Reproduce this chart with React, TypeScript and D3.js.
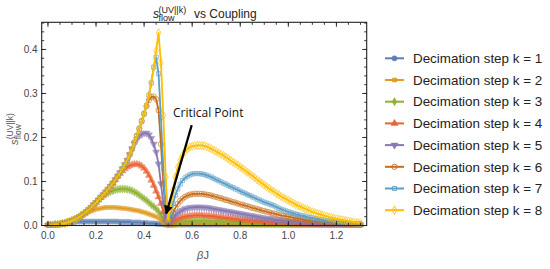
import React from 'react';
import * as d3 from 'd3';

// beta J grid, read at 0.01 steps
const betaJ = [
  0.00, 0.01, 0.02, 0.03, 0.04, 0.05, 0.06, 0.07, 0.08, 0.09,
  0.10, 0.11, 0.12, 0.13, 0.14, 0.15, 0.16, 0.17, 0.18, 0.19,
  0.20, 0.21, 0.22, 0.23, 0.24, 0.25, 0.26, 0.27, 0.28, 0.29,
  0.30, 0.31, 0.32, 0.33, 0.34, 0.35, 0.36, 0.37, 0.38, 0.39,
  0.40, 0.41, 0.42, 0.43, 0.44, 0.45, 0.46, 0.47, 0.48, 0.49,
  0.50, 0.51, 0.52, 0.53, 0.54, 0.55, 0.56, 0.57, 0.58, 0.59,
  0.60, 0.61, 0.62, 0.63, 0.64, 0.65, 0.66, 0.67, 0.68, 0.69,
  0.70, 0.71, 0.72, 0.73, 0.74, 0.75, 0.76, 0.77, 0.78, 0.79,
  0.80, 0.81, 0.82, 0.83, 0.84, 0.85, 0.86, 0.87, 0.88, 0.89,
  0.90, 0.91, 0.92, 0.93, 0.94, 0.95, 0.96, 0.97, 0.98, 0.99,
  1.00, 1.01, 1.02, 1.03, 1.04, 1.05, 1.06, 1.07, 1.08, 1.09,
  1.10, 1.11, 1.12, 1.13, 1.14, 1.15, 1.16, 1.17, 1.18, 1.19,
  1.20, 1.21, 1.22, 1.23, 1.24, 1.25, 1.26, 1.27, 1.28, 1.29,
  1.30,
];

const k1 = [
  0.001, 0.001, 0.001, 0.002, 0.002, 0.003, 0.004, 0.005, 0.006, 0.007,
  0.008, 0.008, 0.009, 0.009, 0.009, 0.009, 0.009, 0.009, 0.009, 0.009,
  0.009, 0.009, 0.009, 0.009, 0.009, 0.009, 0.009, 0.009, 0.009, 0.009,
  0.008, 0.008, 0.008, 0.008, 0.008, 0.007, 0.007, 0.007, 0.007, 0.006,
  0.006, 0.006, 0.005, 0.005, 0.005, 0.004, 0.004, 0.003, 0.002, 0.001,
  0.000, 0.000, 0.000, 0.000, 0.001, 0.001, 0.001, 0.001, 0.001, 0.001,
  0.001, 0.001, 0.001, 0.001, 0.001, 0.001, 0.001, 0.001, 0.001, 0.001,
  0.001, 0.001, 0.001, 0.001, 0.001, 0.001, 0.001, 0.001, 0.001, 0.001,
  0.001, 0.001, 0.001, 0.001, 0.001, 0.000, 0.000, 0.000, 0.000, 0.000,
  0.000, 0.000, 0.000, 0.000, 0.000, 0.000, 0.000, 0.000, 0.000, 0.000,
  0.000, 0.000, 0.000, 0.000, 0.000, 0.000, 0.000, 0.000, 0.000, 0.000,
  0.000, 0.000, 0.000, 0.000, 0.000, 0.000, 0.000, 0.000, 0.000, 0.000,
  0.000, 0.000, 0.000, 0.000, 0.000, 0.000, 0.000, 0.000, 0.000, 0.000,
  0.000,
];

const k2 = [
  0.001, 0.001, 0.001, 0.002, 0.002, 0.003, 0.004, 0.005, 0.007, 0.009,
  0.011, 0.013, 0.016, 0.019, 0.022, 0.025, 0.028, 0.031, 0.033, 0.035,
  0.037, 0.038, 0.039, 0.040, 0.041, 0.041, 0.041, 0.041, 0.041, 0.040,
  0.040, 0.039, 0.039, 0.038, 0.037, 0.036, 0.035, 0.034, 0.033, 0.031,
  0.030, 0.028, 0.026, 0.024, 0.022, 0.020, 0.017, 0.012, 0.006, 0.002,
  0.001, 0.001, 0.001, 0.002, 0.003, 0.003, 0.004, 0.004, 0.004, 0.004,
  0.004, 0.004, 0.004, 0.004, 0.004, 0.004, 0.004, 0.004, 0.004, 0.004,
  0.004, 0.004, 0.004, 0.003, 0.003, 0.003, 0.003, 0.003, 0.003, 0.003,
  0.003, 0.003, 0.003, 0.003, 0.003, 0.003, 0.002, 0.002, 0.002, 0.002,
  0.002, 0.002, 0.002, 0.002, 0.002, 0.002, 0.002, 0.002, 0.002, 0.002,
  0.002, 0.001, 0.001, 0.001, 0.001, 0.001, 0.001, 0.001, 0.001, 0.001,
  0.001, 0.001, 0.001, 0.001, 0.001, 0.001, 0.001, 0.001, 0.001, 0.001,
  0.001, 0.001, 0.001, 0.001, 0.001, 0.001, 0.001, 0.001, 0.001, 0.001,
  0.001,
];

const k3 = [
  0.001, 0.001, 0.001, 0.002, 0.002, 0.003, 0.004, 0.005, 0.007, 0.009,
  0.011, 0.013, 0.016, 0.019, 0.023, 0.027, 0.031, 0.036, 0.041, 0.047,
  0.052, 0.058, 0.063, 0.067, 0.071, 0.074, 0.077, 0.079, 0.081, 0.082,
  0.083, 0.083, 0.083, 0.082, 0.081, 0.079, 0.076, 0.073, 0.069, 0.065,
  0.061, 0.057, 0.052, 0.047, 0.043, 0.038, 0.032, 0.024, 0.014, 0.006,
  0.002, 0.002, 0.004, 0.006, 0.007, 0.008, 0.009, 0.010, 0.010, 0.011,
  0.011, 0.011, 0.011, 0.011, 0.011, 0.011, 0.011, 0.011, 0.010, 0.010,
  0.010, 0.010, 0.010, 0.009, 0.009, 0.009, 0.008, 0.008, 0.008, 0.007,
  0.007, 0.007, 0.006, 0.006, 0.006, 0.005, 0.005, 0.005, 0.005, 0.004,
  0.004, 0.004, 0.004, 0.004, 0.003, 0.003, 0.003, 0.003, 0.003, 0.003,
  0.002, 0.002, 0.002, 0.002, 0.002, 0.002, 0.002, 0.002, 0.002, 0.002,
  0.002, 0.002, 0.002, 0.001, 0.001, 0.001, 0.001, 0.001, 0.001, 0.001,
  0.001, 0.001, 0.001, 0.001, 0.001, 0.001, 0.001, 0.001, 0.001, 0.001,
  0.001,
];

const k4 = [
  0.001, 0.001, 0.001, 0.002, 0.002, 0.003, 0.004, 0.005, 0.007, 0.009,
  0.011, 0.013, 0.016, 0.019, 0.023, 0.027, 0.031, 0.036, 0.041, 0.047,
  0.052, 0.058, 0.064, 0.070, 0.076, 0.082, 0.089, 0.096, 0.104, 0.112,
  0.118, 0.124, 0.129, 0.133, 0.136, 0.138, 0.139, 0.139, 0.138, 0.135,
  0.130, 0.123, 0.114, 0.103, 0.091, 0.078, 0.065, 0.050, 0.031, 0.013,
  0.003, 0.004, 0.008, 0.012, 0.015, 0.017, 0.019, 0.020, 0.021, 0.022,
  0.022, 0.023, 0.023, 0.023, 0.023, 0.022, 0.022, 0.022, 0.021, 0.021,
  0.020, 0.019, 0.019, 0.018, 0.017, 0.017, 0.016, 0.015, 0.015, 0.014,
  0.013, 0.013, 0.012, 0.012, 0.011, 0.011, 0.010, 0.010, 0.009, 0.009,
  0.008, 0.008, 0.007, 0.007, 0.007, 0.006, 0.006, 0.006, 0.005, 0.005,
  0.005, 0.004, 0.004, 0.004, 0.004, 0.003, 0.003, 0.003, 0.003, 0.003,
  0.002, 0.002, 0.002, 0.002, 0.002, 0.002, 0.002, 0.002, 0.002, 0.002,
  0.002, 0.002, 0.002, 0.001, 0.001, 0.001, 0.001, 0.001, 0.001, 0.001,
  0.001,
];

const k5 = [
  0.001, 0.001, 0.001, 0.002, 0.002, 0.003, 0.004, 0.005, 0.007, 0.009,
  0.011, 0.013, 0.016, 0.019, 0.023, 0.027, 0.031, 0.036, 0.041, 0.047,
  0.052, 0.058, 0.064, 0.070, 0.076, 0.082, 0.089, 0.096, 0.104, 0.112,
  0.120, 0.129, 0.138, 0.148, 0.161, 0.174, 0.186, 0.196, 0.203, 0.207,
  0.210, 0.210, 0.206, 0.198, 0.185, 0.167, 0.140, 0.095, 0.050, 0.016,
  0.003, 0.008, 0.016, 0.023, 0.028, 0.032, 0.035, 0.038, 0.039, 0.041,
  0.041, 0.042, 0.042, 0.042, 0.042, 0.041, 0.041, 0.040, 0.039, 0.038,
  0.037, 0.036, 0.035, 0.034, 0.033, 0.032, 0.031, 0.030, 0.029, 0.028,
  0.027, 0.026, 0.025, 0.024, 0.023, 0.022, 0.021, 0.020, 0.019, 0.018,
  0.017, 0.016, 0.016, 0.015, 0.014, 0.013, 0.013, 0.012, 0.011, 0.011,
  0.010, 0.010, 0.009, 0.009, 0.008, 0.008, 0.007, 0.007, 0.006, 0.006,
  0.006, 0.005, 0.005, 0.005, 0.004, 0.004, 0.004, 0.004, 0.003, 0.003,
  0.003, 0.003, 0.002, 0.002, 0.002, 0.002, 0.002, 0.002, 0.001, 0.001,
  0.001,
];

const k6 = [
  0.001, 0.001, 0.001, 0.002, 0.002, 0.003, 0.004, 0.005, 0.007, 0.009,
  0.011, 0.013, 0.016, 0.019, 0.023, 0.027, 0.031, 0.036, 0.041, 0.047,
  0.052, 0.058, 0.064, 0.070, 0.076, 0.082, 0.089, 0.096, 0.104, 0.112,
  0.120, 0.129, 0.138, 0.148, 0.161, 0.174, 0.189, 0.204, 0.220, 0.237,
  0.254, 0.271, 0.285, 0.292, 0.293, 0.287, 0.262, 0.185, 0.095, 0.028,
  0.004, 0.014, 0.028, 0.040, 0.049, 0.056, 0.061, 0.065, 0.068, 0.070,
  0.071, 0.072, 0.072, 0.072, 0.072, 0.071, 0.070, 0.069, 0.068, 0.066,
  0.065, 0.063, 0.062, 0.060, 0.058, 0.057, 0.055, 0.053, 0.052, 0.050,
  0.048, 0.047, 0.045, 0.044, 0.042, 0.040, 0.039, 0.037, 0.036, 0.034,
  0.033, 0.031, 0.030, 0.028, 0.027, 0.026, 0.024, 0.023, 0.022, 0.021,
  0.020, 0.019, 0.018, 0.017, 0.016, 0.015, 0.014, 0.013, 0.012, 0.012,
  0.011, 0.010, 0.010, 0.009, 0.008, 0.008, 0.007, 0.007, 0.006, 0.006,
  0.005, 0.005, 0.005, 0.004, 0.004, 0.004, 0.003, 0.003, 0.003, 0.002,
  0.002,
];

const k7 = [
  0.001, 0.001, 0.001, 0.002, 0.002, 0.003, 0.004, 0.005, 0.007, 0.009,
  0.011, 0.013, 0.016, 0.019, 0.023, 0.027, 0.031, 0.036, 0.041, 0.047,
  0.052, 0.058, 0.064, 0.070, 0.076, 0.082, 0.089, 0.096, 0.104, 0.112,
  0.120, 0.129, 0.138, 0.148, 0.161, 0.174, 0.189, 0.204, 0.220, 0.237,
  0.254, 0.273, 0.296, 0.324, 0.360, 0.382, 0.345, 0.245, 0.130, 0.040,
  0.005, 0.025, 0.050, 0.069, 0.083, 0.094, 0.102, 0.108, 0.112, 0.115,
  0.117, 0.118, 0.118, 0.118, 0.117, 0.116, 0.114, 0.112, 0.110, 0.107,
  0.104, 0.102, 0.099, 0.096, 0.094, 0.091, 0.088, 0.086, 0.083, 0.081,
  0.078, 0.075, 0.073, 0.070, 0.068, 0.065, 0.063, 0.060, 0.058, 0.055,
  0.053, 0.051, 0.049, 0.047, 0.045, 0.042, 0.039, 0.037, 0.035, 0.033,
  0.031, 0.029, 0.028, 0.026, 0.025, 0.023, 0.022, 0.021, 0.019, 0.018,
  0.017, 0.016, 0.015, 0.014, 0.013, 0.012, 0.011, 0.010, 0.010, 0.009,
  0.008, 0.008, 0.007, 0.006, 0.006, 0.005, 0.005, 0.004, 0.004, 0.004,
  0.003,
];

const k8 = [
  0.001, 0.001, 0.001, 0.002, 0.002, 0.003, 0.004, 0.005, 0.007, 0.009,
  0.011, 0.013, 0.016, 0.019, 0.023, 0.027, 0.031, 0.036, 0.041, 0.047,
  0.052, 0.058, 0.064, 0.070, 0.076, 0.082, 0.089, 0.096, 0.104, 0.112,
  0.120, 0.129, 0.138, 0.148, 0.161, 0.174, 0.189, 0.204, 0.220, 0.237,
  0.254, 0.273, 0.296, 0.324, 0.358, 0.397, 0.438, 0.370, 0.250, 0.110,
  0.012, 0.040, 0.080, 0.110, 0.132, 0.148, 0.160, 0.168, 0.174, 0.178,
  0.180, 0.181, 0.182, 0.182, 0.182, 0.181, 0.179, 0.177, 0.174, 0.171,
  0.168, 0.165, 0.162, 0.159, 0.155, 0.152, 0.148, 0.144, 0.141, 0.137,
  0.133, 0.129, 0.125, 0.121, 0.117, 0.113, 0.109, 0.104, 0.100, 0.096,
  0.092, 0.088, 0.084, 0.080, 0.077, 0.073, 0.070, 0.066, 0.063, 0.060,
  0.057, 0.054, 0.051, 0.048, 0.045, 0.043, 0.040, 0.038, 0.036, 0.033,
  0.031, 0.029, 0.027, 0.026, 0.024, 0.022, 0.021, 0.019, 0.018, 0.016,
  0.015, 0.014, 0.013, 0.012, 0.011, 0.010, 0.009, 0.008, 0.007, 0.007,
  0.006,
];

const seriesNames = [
  'Decimation step k = 1',
  'Decimation step k = 2',
  'Decimation step k = 3',
  'Decimation step k = 4',
  'Decimation step k = 5',
  'Decimation step k = 6',
  'Decimation step k = 7',
  'Decimation step k = 8',
];

const xTicks = [0, 0.2, 0.4, 0.6, 0.8, 1.0, 1.2];
const xTickLabels = ['0.0', '0.2', '0.4', '0.6', '0.8', '1.0', '1.2'];
const yTicks = [0, 0.1, 0.2, 0.3, 0.4];
const yTickLabels = ['0.0', '0.1', '0.2', '0.3', '0.4'];

// annotation arrow: tail, tip in data units
const arrowFrom = [0.598, 0.228];
const arrowTo = [0.492, 0.027];

const colors = ['#5e81b5', '#e19c24', '#8fb032', '#eb6235', '#8778b3', '#c56e1a', '#5d9ec7', '#ffbf00'];
const markers = [
  { type: d3.symbolCircle, size: 22, filled: true, rot: 0 },
  { type: d3.symbolSquare, size: 17, filled: true, rot: 0 },
  { type: d3.symbolDiamond, size: 20, filled: true, rot: 0 },
  { type: d3.symbolTriangle, size: 22, filled: true, rot: 0 },
  { type: d3.symbolTriangle, size: 22, filled: true, rot: 180 },
  { type: d3.symbolCircle, size: 22, filled: false, rot: 0 },
  { type: d3.symbolSquare, size: 17, filled: false, rot: 0 },
  { type: d3.symbolDiamond, size: 20, filled: false, rot: 0 },
];

const FONT = '"Liberation Sans", Arial, sans-serif';
const M = { l: 41.7, r: 366.7, t: 22.3, b: 225.5 };

export default function App() {
  const x = d3.scaleLinear().domain([-0.026, 1.326]).range([M.l, M.r]);
  const y = d3.scaleLinear().domain([0, 0.4617]).range([M.b, M.t]);
  const series = [k1, k2, k3, k4, k5, k6, k7, k8];
  const line = d3.line<number>().x((_, i) => x(betaJ[i])).y(d => y(d));

  const xMinor = d3.range(0, 1.3001, 0.05);
  const yMinor = d3.range(0, 0.4601, 0.02);

  const marker = (i: number, cx: number, cy: number, key: string | number) => {
    const m = markers[i];
    const d = d3.symbol(m.type, m.size)() as string;
    return (
      <path
        key={key}
        d={d}
        transform={`translate(${cx},${cy}) rotate(${m.rot})`}
        fill={m.filled ? colors[i] : 'none'}
        stroke={colors[i]}
        strokeWidth={m.filled ? 0.4 : 0.9}
      />
    );
  };

  const legendY = (i: number) => 58.3 + i * 21.7;

  return (
    <svg width={550} height={269} style={{ position: 'absolute', left: 0, top: 0, background: '#fff' }} fontFamily={FONT}>
      <defs>
        <clipPath id="plotClip">
          <rect x={M.l} y={M.t} width={M.r - M.l} height={M.b - M.t + 2} />
        </clipPath>
        <marker id="arrowHead" viewBox="0 0 10 10" refX="9" refY="5" markerWidth="4" markerHeight="4" orient="auto">
          <path d="M0,0 L10,5 L0,10 z" fill="#000" />
        </marker>
      </defs>

      {/* title */}
      <g fill="#222">
        <text x={153} y={18.3} fontSize={12} fontStyle="italic">s</text>
        <text x={158.5} y={12.5} fontSize={9}>(UV||k)</text>
        <text x={158.5} y={21} fontSize={9}>flow</text>
        <text x={194} y={18.3} fontSize={12}>vs Coupling</text>
      </g>

      {/* series */}
      <g clipPath="url(#plotClip)">
        {series.map((vals, i) => (
          <g key={i}>
            <g opacity={0.75}>
              {vals.map((v, j) => marker(i, x(betaJ[j]), y(v), j))}
            </g>
            <path d={line(vals) as string} fill="none" stroke={colors[i]} strokeWidth={1.8} strokeLinejoin="round" />
          </g>
        ))}
      </g>

      {/* frame */}
      <rect x={M.l} y={M.t} width={M.r - M.l} height={M.b - M.t} fill="none" stroke="#222" strokeWidth={1.1} />
      <g stroke="#222" strokeWidth={0.9}>
        {xMinor.map((t, i) => (
          <g key={'xm' + i}>
            <line x1={x(t)} x2={x(t)} y1={M.b} y2={M.b - 2.5} />
            <line x1={x(t)} x2={x(t)} y1={M.t} y2={M.t + 2.5} />
          </g>
        ))}
        {xTicks.map((t, i) => (
          <g key={'xM' + i}>
            <line x1={x(t)} x2={x(t)} y1={M.b} y2={M.b - 4.5} />
            <line x1={x(t)} x2={x(t)} y1={M.t} y2={M.t + 4.5} />
          </g>
        ))}
        {yMinor.map((t, i) => (
          <g key={'ym' + i}>
            <line x1={M.l} x2={M.l + 2.5} y1={y(t)} y2={y(t)} />
            <line x1={M.r} x2={M.r - 2.5} y1={y(t)} y2={y(t)} />
          </g>
        ))}
        {yTicks.map((t, i) => (
          <g key={'yM' + i}>
            <line x1={M.l} x2={M.l + 4.5} y1={y(t)} y2={y(t)} />
            <line x1={M.r} x2={M.r - 4.5} y1={y(t)} y2={y(t)} />
          </g>
        ))}
      </g>
      <g fill="#444" fontSize={10}>
        {xTicks.map((t, i) => (
          <text key={'xl' + i} x={x(t)} y={M.b + 13} textAnchor="middle">{xTickLabels[i]}</text>
        ))}
        {yTicks.map((t, i) => (
          <text key={'yl' + i} x={M.l - 4} y={y(t) + 3.5} textAnchor="end">{yTickLabels[i]}</text>
        ))}
      </g>

      {/* axis labels */}
      <text x={203} y={259} fontSize={11} fill="#555" textAnchor="middle">
        <tspan fontStyle="italic">β</tspan>J
      </text>
      <g transform="translate(0,0) rotate(-90)" fill="#555">
        <text x={-145} y={18} fontSize={11} fontStyle="italic">s</text>
        <text x={-139.3} y={12.5} fontSize={8.5}>(UV||k)</text>
        <text x={-139.3} y={20.8} fontSize={8.5}>flow</text>
      </g>

      {/* critical point annotation */}
      <text x={173} y={117} fontSize={12} fontFamily='"Open Sans", sans-serif' fill="#111">Critical Point</text>
      <line
        x1={x(arrowFrom[0])}
        y1={y(arrowFrom[1])}
        x2={x(arrowTo[0])}
        y2={y(arrowTo[1])}
        stroke="#000"
        strokeWidth={2.2}
        markerEnd="url(#arrowHead)"
      />

      {/* legend */}
      <g>
        {seriesNames.map((name, i) => (
          <g key={name}>
            <line x1={385} x2={404} y1={legendY(i)} y2={legendY(i)} stroke={colors[i]} strokeWidth={2} />
            {marker(i, 394.5, legendY(i), 'lm' + i)}
            <text x={413} y={legendY(i) + 4.7} fontSize={13.4} fill="#222">{name}</text>
          </g>
        ))}
      </g>
    </svg>
  );
}
